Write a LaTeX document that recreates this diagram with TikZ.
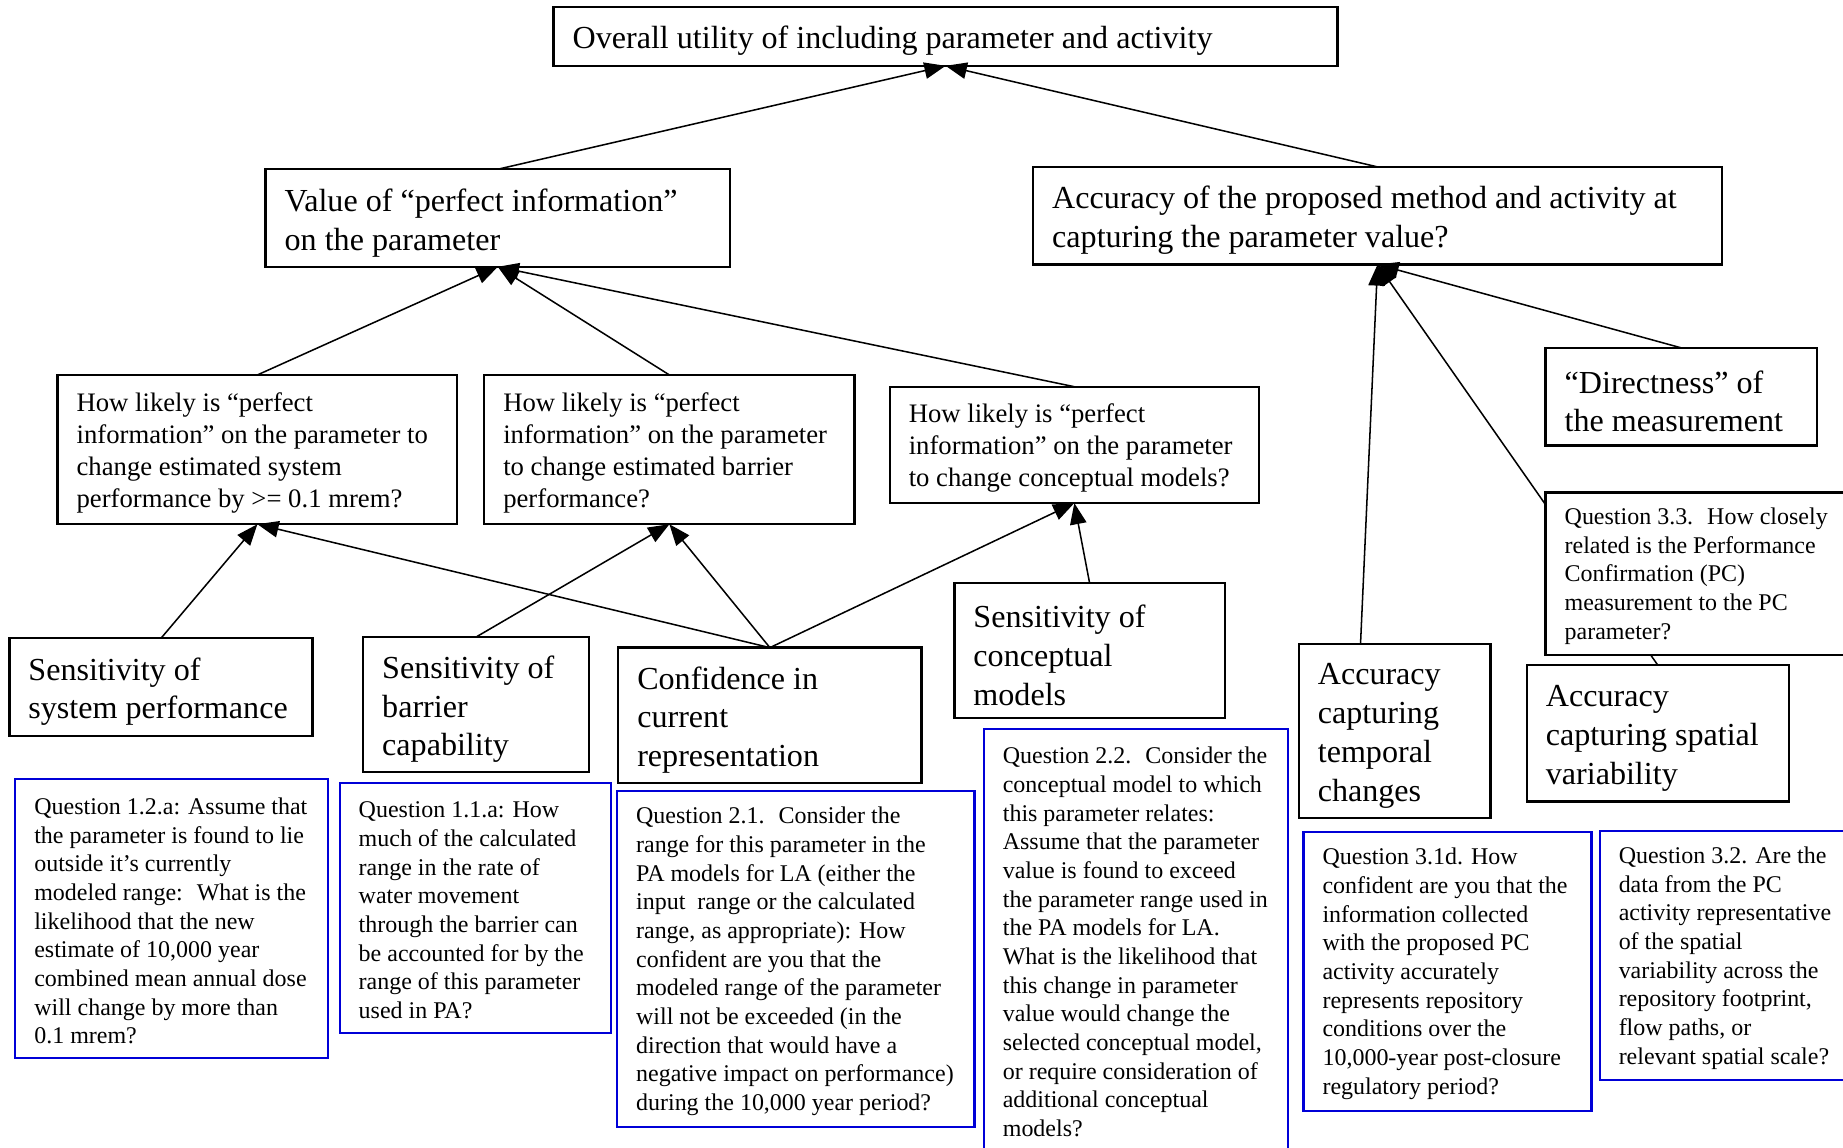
\documentclass[tikz,border=0pt]{standalone}
\usepackage{fontspec}
\setmainfont{Liberation Serif}
\usetikzlibrary{arrows.meta}
\definecolor{qblue}{RGB}{0,0,215}
\tikzset{
  blackbox/.style={draw=black, line width=2pt, fill=white, rectangle,
    inner sep=0pt, outer sep=0pt, anchor=north west},
  bluebox/.style={draw=qblue, line width=2pt, fill=white, rectangle,
    inner sep=0pt, outer sep=0pt, anchor=north west},
  bigtext/.style={font=\fontsize{27.3}{33}\selectfont, align=left,
    inner sep=0pt, anchor=west, yshift=-4pt},
  midtext/.style={font=\fontsize{22.7}{27.2}\selectfont, align=left,
    inner sep=0pt, anchor=west, yshift=-3pt},
  smalltext/.style={font=\fontsize{20.4}{24.4}\selectfont, align=left,
    inner sep=0pt, anchor=west, yshift=-2pt},
  link/.style={line width=1.3pt, -{Triangle[length=18pt,width=14pt]}},
}
% #1 name, #2 box style, #3 x, #4 y (top left), #5 width, #6 height,
% #7 text style, #8 text
\newcommand\labelledbox[8]{%
  \node[#2, minimum width=#5, minimum height=#6] (#1) at (#3,#4) {};
  \node[#7] (#1-txt) at ([xshift=16pt]#1.west) {#8};
}
\begin{document}
\begin{tikzpicture}[x=1pt, y=-1pt]
\useasboundingbox (0,0) rectangle (1568,976);
\clip (0,0) rectangle (1568,976);
\fill[white] (0,0) rectangle (1568,976);

% top level
\labelledbox{top}{blackbox}{471}{6}{667}{50}{bigtext}
  {Overall utility of including parameter and activity}

% second level
\labelledbox{value}{blackbox}{226}{144}{395}{83}{bigtext}
  {Value of “perfect information”\\on the parameter}
\labelledbox{accu}{blackbox}{879}{142}{586}{83}{bigtext}
  {Accuracy of the proposed method and activity at\\capturing the parameter value?}

% third level
\labelledbox{howsys}{blackbox}{49}{319}{340}{127}{midtext}
  {How likely is “perfect\\information” on the parameter to\\change estimated system\\performance by >= 0.1 mrem?}
\labelledbox{howbar}{blackbox}{412}{319}{315}{127}{midtext}
  {How likely is “perfect\\information” on the parameter\\to change estimated barrier\\performance?}
\labelledbox{howcon}{blackbox}{757}{329}{314}{99}{midtext}
  {How likely is “perfect\\information” on the parameter\\to change conceptual models?}
\labelledbox{direct}{blackbox}{1315}{296}{231}{83}{bigtext}
  {“Directness” of\\the measurement}

% criteria
\labelledbox{sensys}{blackbox}{8}{543}{258}{83}{bigtext}
  {Sensitivity of\\system performance}
\labelledbox{sensbar}{blackbox}{309}{542}{192}{115}{bigtext}
  {Sensitivity of\\barrier\\capability}
\labelledbox{conf}{blackbox}{526}{551}{258}{115}{bigtext}
  {Confidence in\\current\\representation}
\labelledbox{senscm}{blackbox}{812}{496}{230}{115}{bigtext}
  {Sensitivity of\\conceptual\\models}
\labelledbox{acctemp}{blackbox}{1105}{548}{163}{148}{bigtext}
  {Accuracy\\capturing\\temporal\\changes}
\labelledbox{accspat}{blackbox}{1299}{566}{223}{116}{bigtext}
  {Accuracy\\capturing spatial\\variability}

% questions
\labelledbox{q12a}{bluebox}{13}{663}{266}{237}{smalltext}
  {Question 1.2.a: Assume that\\the parameter is found to lie\\outside it’s currently\\modeled range:~ What is the\\likelihood that the new\\estimate of 10,000 year\\combined mean annual dose\\will change by more than\\0.1 mrem?}
\labelledbox{q11a}{bluebox}{289}{666}{231}{213}{smalltext}
  {Question 1.1.a: How\\much of the calculated\\range in the rate of\\water movement\\through the barrier can\\be accounted for by the\\range of this parameter\\used in PA?}
\labelledbox{q21}{bluebox}{525}{673}{304}{286}{smalltext}
  {Question 2.1.~ Consider the\\range for this parameter in the\\PA models for LA (either the\\input~ range or the calculated\\range, as appropriate): How\\confident are you that the\\modeled range of the parameter\\will not be exceeded (in the\\direction that would have a\\negative impact on performance)\\during the 10,000 year period?}
\labelledbox{q22}{bluebox}{837}{620}{259}{359}{smalltext}
  {Question 2.2.~ Consider the\\conceptual model to which\\this parameter relates:\\Assume that the parameter\\value is found to exceed\\the parameter range used in\\the PA models for LA.\\What is the likelihood that\\this change in parameter\\value would change the\\selected conceptual model,\\or require consideration of\\additional conceptual\\models?}
\labelledbox{q31d}{bluebox}{1109}{708}{245}{237}{smalltext}
  {Question 3.1d. How\\confident are you that the\\information collected\\with the proposed PC\\activity accurately\\represents repository\\conditions over the\\10,000-year post-closure\\regulatory period?}
\labelledbox{q32}{bluebox}{1361}{707}{260}{212}{smalltext}
  {Question 3.2. Are the\\data from the PC\\activity representative\\of the spatial\\variability across the\\repository footprint,\\flow paths, or\\relevant spatial scale?}

% connectors
\draw[link] (value.north) -- (top.south);
\draw[link] (accu.north) -- (top.south);
\draw[link] (howsys.north) -- (value.south);
\draw[link] (howbar.north) -- (value.south);
\draw[link] (howcon.north) -- (value.south);
\draw[link] (sensys.north) -- (howsys.south);
\draw[link] (conf.north) -- (howsys.south);
\draw[link] (sensbar.north) -- (howbar.south);
\draw[link] (conf.north) -- (howbar.south);
\draw[link] (conf.north) -- (howcon.south);
\draw[link] (senscm.north) -- (howcon.south);
\draw[link] (direct.north) -- (accu.south);
\draw[link] ([xshift=-29pt]acctemp.north) -- (accu.south);
\draw[link] (accspat.north) -- (accu.south);

% question box laid over the spatial-variability connector
\labelledbox{q33}{blackbox}{1315}{419}{300}{138}{smalltext}
  {Question 3.3.~ How closely\\related is the Performance\\Confirmation (PC)\\measurement to the PC\\parameter?}
\end{tikzpicture}
\end{document}
